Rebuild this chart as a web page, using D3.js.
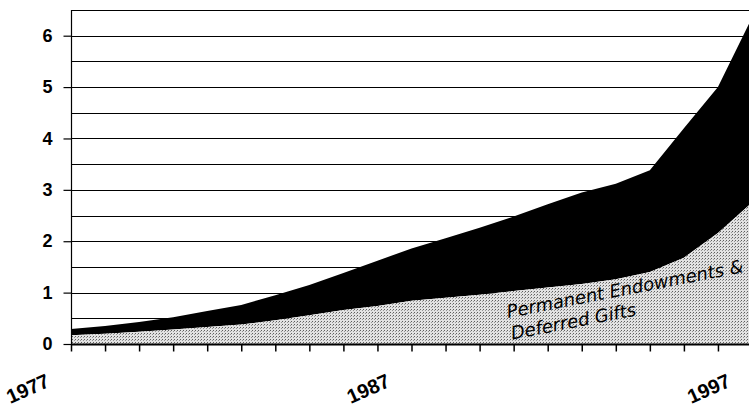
<!DOCTYPE html>
<html>
<head>
<meta charset="utf-8">
<script src="https://cdn.jsdelivr.net/npm/d3@7"></script>
<style>
  html, body { margin: 0; padding: 0; background: #fff; }
  svg { display: block; }
</style>
</head>
<body>
<svg id="chart" width="749" height="407"></svg>
<script>
// ---- data ----
const years = [1977, 1978, 1979, 1980, 1981, 1982, 1983, 1984, 1985, 1986, 1987,
               1988, 1989, 1990, 1991, 1992, 1993, 1994, 1995, 1996, 1997];
const totalValues = [0.29, 0.35, 0.43, 0.52, 0.64, 0.76, 0.95, 1.15, 1.38, 1.62, 1.86,
                     2.06, 2.26, 2.48, 2.72, 2.95, 3.12, 3.38, 4.20, 5.00, 6.35];
const endowmentValues = [0.17, 0.20, 0.24, 0.28, 0.33, 0.38, 0.46, 0.56, 0.66, 0.74, 0.84,
                         0.90, 0.96, 1.03, 1.10, 1.17, 1.26, 1.40, 1.68, 2.16, 2.75];
const yTickValues = [0, 1, 2, 3, 4, 5, 6];
const gridValues = [0.5, 1, 1.5, 2, 2.5, 3, 3.5, 4, 4.5, 5, 5.5, 6, 6.5];
const xLabelYears = [1977, 1987, 1997];
const seriesLabelLines = ["Permanent Endowments &", "Deferred Gifts"];

const rows = years.map((yr, i) => ({ year: yr, total: totalValues[i], endow: endowmentValues[i] }));

const svg = d3.select("#chart");
const mLeft = 71, mRight = 752, mTop = 10, mBottom = 344;

const x = d3.scaleLinear().domain([1977, 1997]).range([mLeft, mRight]);
const y = d3.scaleLinear().domain([0, 6.5]).range([mBottom, mTop]);

// stipple pattern
const defs = svg.append("defs");
const pat = defs.append("pattern").attr("id", "stipple")
  .attr("width", 3).attr("height", 3).attr("patternUnits", "userSpaceOnUse");
pat.append("rect").attr("width", 3).attr("height", 3).attr("fill", "#e2e2e2");
pat.append("rect").attr("x", 0).attr("y", 0).attr("width", 1).attr("height", 1).attr("fill", "#5e5e5e");
pat.append("rect").attr("x", 2).attr("y", 1).attr("width", 1).attr("height", 1).attr("fill", "#959595");

defs.append("clipPath").attr("id", "plotclip")
  .append("rect").attr("x", mLeft).attr("y", mTop - 1).attr("width", 749 - mLeft).attr("height", mBottom - mTop + 1);

// gridlines
svg.append("g").selectAll("line").data(gridValues).join("line")
  .attr("x1", mLeft).attr("x2", 749)
  .attr("y1", d => Math.round(y(d)) + 0.5).attr("y2", d => Math.round(y(d)) + 0.5)
  .attr("stroke", "#000").attr("stroke-width", 1.2);

const plot = svg.append("g").attr("clip-path", "url(#plotclip)");

// black area on top of endowments
plot.append("path").datum(rows)
  .attr("fill", "#000")
  .attr("d", d3.area().x(d => x(d.year)).y0(d => y(d.endow)).y1(d => y(d.total)));

// endowments area
plot.append("path").datum(rows)
  .attr("fill", "url(#stipple)")
  .attr("d", d3.area().x(d => x(d.year)).y0(y(0)).y1(d => y(d.endow)));

// y axis
const yAxis = d3.axisLeft(y).tickValues(yTickValues).tickSize(8).tickPadding(11).tickFormat(d3.format("d"));
const gy = svg.append("g").attr("transform", `translate(${mLeft + 0.5},0)`).call(yAxis);
gy.select(".domain").attr("d", `M0,${mTop}V${mBottom}`).attr("stroke", "#000").attr("stroke-width", 1.2);
gy.selectAll(".tick line").attr("stroke", "#000").attr("stroke-width", 1.2);
gy.selectAll(".tick text").attr("font-family", "Liberation Sans, Arial, sans-serif")
  .attr("font-size", 18).attr("font-weight", "bold").attr("fill", "#000");

// x axis
const xAxis = d3.axisBottom(x).tickValues(years).tickSize(7).tickFormat("");
const gx = svg.append("g").attr("transform", `translate(0,${mBottom + 0.5})`).call(xAxis);
gx.select(".domain").attr("d", `M${mLeft},0H749`).attr("stroke", "#000").attr("stroke-width", 2);
gx.selectAll(".tick line").attr("stroke", "#000").attr("stroke-width", 1.5);

// rotated year labels
svg.append("g").selectAll("text").data(xLabelYears).join("text")
  .attr("transform", d => `translate(${x(d) - 20},386) rotate(-24)`)
  .attr("text-anchor", "end")
  .attr("font-family", "Liberation Sans, Arial, sans-serif")
  .attr("font-size", 20).attr("font-weight", "bold")
  .attr("fill", "#000")
  .text(d => d);

// series label
const lab = svg.append("text")
  .attr("transform", "translate(508,318) rotate(-11)")
  .attr("font-family", "DejaVu Sans, Verdana, sans-serif")
  .attr("font-size", 18).attr("font-style", "italic").attr("fill", "#000");
lab.selectAll("tspan").data(seriesLabelLines).join("tspan")
  .attr("x", 0).attr("dy", (d, i) => i === 0 ? 0 : 22)
  .text(d => d);
</script>
</body>
</html>
